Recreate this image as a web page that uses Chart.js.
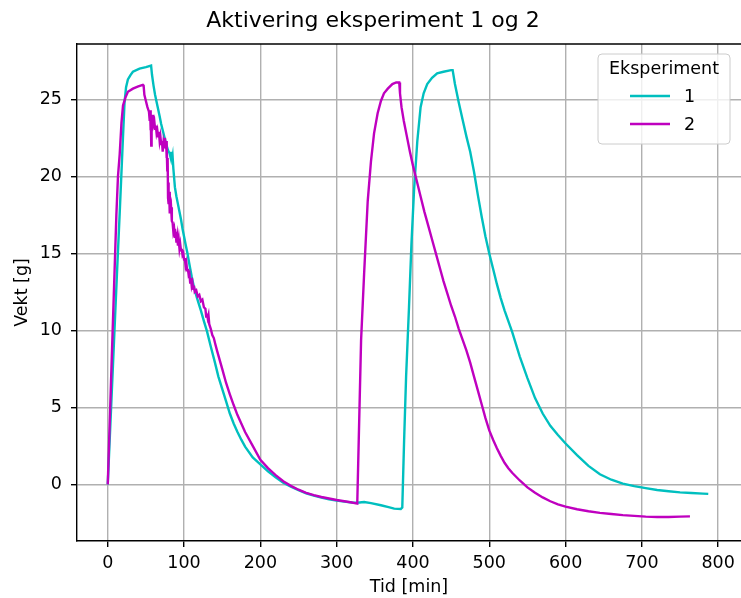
<!DOCTYPE html>
<html>
<head>
<meta charset="utf-8">
<title>Aktivering eksperiment 1 og 2</title>
<script src="https://cdn.jsdelivr.net/npm/chart.js@4/dist/chart.umd.min.js"></script>
<style>
  html, body { margin: 0; padding: 0; overflow: hidden; background: #fff; }
</style>
</head>
<body>
<canvas id="aktivering" width="741" height="598"></canvas>
<script>
////////////////// Data ///////////////////////

// Eksperiment 1: tid [min] og vekt [g]
const tid1 = [
  0, 6, 12, 16, 20, 22, 24, 26.4, 30, 33, 41.6, 50, 56.8,
  58, 60, 62, 65, 68, 70, 73, 76, 79, 81, 82.5, 83, 84, 85, 86, 88, 90, 92, 94, 96,
  98, 100, 102, 104.5, 107, 110, 113, 117, 122, 126, 130, 135, 140, 145, 150, 155,
  160, 165, 170, 175, 180, 190, 200, 210, 220, 230, 240, 250, 260, 270, 280, 290,
  300, 310, 320, 326, 330, 336, 345, 358, 368, 375.4, 384, 386,
  388.4, 391, 394.8, 398, 401.4, 405.7, 410, 414, 418.7, 425, 431.7, 440, 450, 452,
  455, 460, 465, 470, 475, 480, 485, 490, 495, 500, 505, 510, 515, 520, 525, 530,
  540, 550, 560, 570, 580, 590, 600, 615, 630, 645, 660, 675, 690, 705, 720, 735,
  750, 765, 780, 787,
];
const vekt1 = [
  0, 6.8, 13.6, 18, 22.6, 24.8, 25.8, 26.3, 26.6, 26.8, 27.0, 27.1, 27.2,
  26.6, 25.9, 25.3, 24.6, 23.9, 23.4, 22.8, 22.2, 21.7, 21.5, 21.2, 21.6, 21.0, 21.3, 20.5, 19.3, 18.7, 18.2, 17.7, 17.2,
  16.6, 16.1, 15.6, 15.0, 14.3, 13.5, 12.8, 12.1, 11.3, 10.6, 9.95, 8.95, 8.0, 7.0, 6.2, 5.4,
  4.6, 3.95, 3.4, 2.9, 2.45, 1.75, 1.3, 0.85, 0.45, 0.1, -0.15, -0.38, -0.58, -0.73, -0.86, -0.97,
  -1.06, -1.12, -1.18, -1.2, -1.18, -1.15, -1.22, -1.36, -1.48, -1.58, -1.6, -1.5,
  2.86, 7, 11.5, 15.6, 19.1, 22.3, 24.5, 25.4, 26.0, 26.4, 26.7, 26.8, 26.9, 26.9,
  26.0, 24.8, 23.7, 22.6, 21.6, 20.3, 18.8, 17.4, 16.1, 15.0, 14.0, 13.0, 12.1, 11.3, 10.6, 9.9,
  8.3, 6.9, 5.6, 4.6, 3.8, 3.2, 2.65, 1.9, 1.2, 0.65, 0.3, 0.05, -0.12, -0.25, -0.37, -0.45,
  -0.52, -0.56, -0.6, -0.62,
];

// Eksperiment 2: tid [min] og vekt [g]
const tid2 = [
  0, 5, 11.3, 13.4, 15.6, 18, 20, 23, 26.4, 33, 40, 46, 47,
  48, 50, 52, 54, 55, 55.5, 56, 56.5, 57, 57.5, 58, 59, 60, 61, 62, 63, 64, 65, 66,
  67, 68, 69, 70, 71, 72, 73, 74, 75, 76, 76.5, 77, 77.5, 78, 78.5, 79, 79.5, 80,
  80.5, 81, 81.5, 82, 83, 84, 85, 86, 87, 88, 89, 90, 91, 92, 93, 94, 95, 96, 97,
  98, 99, 100, 101, 102, 103, 104, 105, 106, 107, 108, 109, 110, 111, 112, 113,
  114, 116, 118, 120, 122, 124, 126, 128, 129, 130, 131, 132, 133, 135, 137, 139,
  141, 143.4, 150, 155, 160, 165, 170, 175, 180, 190, 200, 210, 220, 230, 240, 250,
  260, 270, 280, 290, 300, 310, 320, 327,
  332, 336, 340.7, 345, 349, 353.7, 358, 362, 367, 373, 378, 382,
  383, 385, 388, 392, 396, 400, 405, 410, 415, 420, 425, 430, 435, 440, 445, 450,
  455, 460, 465, 470, 475, 480, 485, 490, 495, 500, 505, 510, 515, 520, 525, 530,
  540, 550, 560, 570, 580, 590, 600, 615, 630, 645, 660, 675, 690, 705, 720, 735,
  750, 763,
];
const vekt2 = [
  0, 7.8, 17.5, 20.0, 21.4, 23.5, 24.6, 25.1, 25.5, 25.7, 25.85, 25.95, 25.9,
  25.3, 24.9, 24.5, 24.2, 23.6, 24.3, 23.0, 24.0, 22.0, 23.8, 23.2, 24.0, 23.4, 23.6, 23.1, 23.3, 22.8, 23.0, 22.6,
  22.9, 22.3, 22.6, 22.1, 22.3, 21.6, 22.2, 21.9, 22.5, 21.8, 22.3, 21.2, 21.9, 20.4, 21.2, 18.6, 19.6, 18.2,
  19.0, 17.6, 18.8, 17.7, 18.0, 17.1, 17.0, 16.4, 16.6, 16.0, 16.4, 15.7, 16.1, 15.5, 15.9, 15.3, 15.6, 15.2, 15.3,
  14.9, 15.0, 14.6, 14.7, 14.2, 14.4, 13.9, 14.0, 13.6, 13.7, 13.1, 13.4, 12.9, 13.1, 12.7, 12.9,
  12.5, 12.6, 12.2, 12.3, 11.9, 12.0, 11.5, 11.4, 10.9, 11.1, 10.8, 11.0, 10.4, 10.1, 9.7, 9.5,
  9.1, 8.65, 7.5, 6.6, 5.85, 5.15, 4.5, 3.95, 3.4, 2.5, 1.6, 1.05, 0.6, 0.2, -0.1, -0.35,
  -0.55, -0.7, -0.82, -0.92, -1.02, -1.1, -1.18, -1.25,
  9.35, 13.7, 18.4, 21, 22.8, 24.1, 24.9, 25.4, 25.7, 26.0, 26.1, 26.1,
  25.4, 24.5, 23.6, 22.6, 21.6, 20.7, 19.7, 18.7, 17.7, 16.8, 15.9, 15.0, 14.1, 13.2, 12.4, 11.6,
  10.9, 10.1, 9.4, 8.7, 7.9, 7.0, 6.1, 5.2, 4.3, 3.5, 2.9, 2.35, 1.85, 1.4, 1.05, 0.75,
  0.25, -0.2, -0.55, -0.85, -1.1, -1.3, -1.45, -1.62, -1.75, -1.85, -1.93, -2.0, -2.05, -2.1, -2.12, -2.12,
  -2.1, -2.08,
];

const serieNavn = ["1", "2"];
const yTicks = [0, 5, 10, 15, 20, 25];
const xTicks = [0, 100, 200, 300, 400, 500, 600, 700, 800];

const toPoints = (t, v) => t.map((x, i) => ({ x: x, y: v[i] }));

////////////////// Plugins ///////////////////////

// top spine (the right one falls outside the canvas)
const frame = {
  id: "frame",
  afterDraw(chart) {
    const { ctx, chartArea } = chart;
    ctx.save();
    ctx.strokeStyle = "#000";
    ctx.lineWidth = 1.4;
    ctx.beginPath();
    ctx.moveTo(chartArea.left, chartArea.top);
    ctx.lineTo(chartArea.right, chartArea.top);
    ctx.stroke();
    ctx.restore();
  },
};

// legend box inside the plot area, upper right
const legendInside = {
  id: "legendInside",
  afterDraw(chart) {
    const { ctx, chartArea } = chart;
    const w = 132, h = 90;
    const left = chartArea.right - 11 - w;
    const top = chartArea.top + 10;
    ctx.save();
    ctx.beginPath();
    ctx.roundRect(left, top, w, h, 4);
    ctx.fillStyle = "rgba(255,255,255,0.8)";
    ctx.fill();
    ctx.strokeStyle = "#cccccc";
    ctx.lineWidth = 1;
    ctx.stroke();

    ctx.font = "17.5px 'DejaVu Sans'";
    ctx.fillStyle = "#000";
    ctx.textBaseline = "middle";
    ctx.textAlign = "center";
    ctx.fillText("Eksperiment", left + w / 2, top + 15);

    chart.data.datasets.forEach((ds, i) => {
      const y = top + 42 + i * 28;
      ctx.strokeStyle = ds.borderColor;
      ctx.lineWidth = ds.borderWidth;
      ctx.beginPath();
      ctx.moveTo(left + 32, y);
      ctx.lineTo(left + 72, y);
      ctx.stroke();
      ctx.textAlign = "left";
      ctx.fillText(ds.label, left + 86, y + 1);
    });
    ctx.restore();
  },
};

////////////////// Chart ///////////////////////

Chart.defaults.font.family = "'DejaVu Sans', sans-serif";
Chart.defaults.color = "#000";

const ctx = document.getElementById("aktivering");
const myChart = new Chart(ctx, {
  type: "line",
  data: {
    datasets: [
      {
        label: serieNavn[0],
        data: toPoints(tid1, vekt1),
        borderColor: "#00bfbf",
        borderWidth: 2.4,
        pointRadius: 0,
        tension: 0,
        order: 2,
      },
      {
        label: serieNavn[1],
        data: toPoints(tid2, vekt2),
        borderColor: "#bf00bf",
        borderWidth: 2.4,
        pointRadius: 0,
        tension: 0,
        order: 1,
      },
    ],
  },
  options: {
    responsive: false,
    animation: false,
    // the right edge of the axes sits just past the canvas edge
    layout: { padding: { left: 0, right: -5, top: 0, bottom: 0 } },
    scales: {
      x: {
        type: "linear",
        min: -40.3,
        max: 829.9,
        afterBuildTicks: (scale) => {
          scale.ticks = xTicks.map((v) => ({ value: v }));
        },
        afterFit: (scale) => {
          scale.height = 57;
        },
        ticks: {
          font: { size: 17.5 },
          padding: 6,
          maxRotation: 0,
          callback: (v) => v,
        },
        grid: {
          color: "#b0b0b0",
          lineWidth: 1.4,
          tickColor: "#000",
          tickLength: 6,
        },
        border: { display: true, color: "#000", width: 1.4 },
        title: {
          display: true,
          text: "Tid [min]",
          font: { size: 17.5 },
          padding: { top: 0, bottom: 0 },
        },
      },
      y: {
        min: -3.68,
        max: 28.6,
        afterBuildTicks: (scale) => {
          scale.ticks = yTicks.map((v) => ({ value: v }));
        },
        afterFit: (scale) => {
          scale.width = 77;
        },
        ticks: {
          font: { size: 17.5 },
          padding: 9,
          callback: (v) => v,
        },
        grid: {
          color: "#b0b0b0",
          lineWidth: 1.4,
          tickColor: "#000",
          tickLength: 6,
        },
        border: { display: true, color: "#000", width: 1.4 },
        title: {
          display: true,
          text: "Vekt [g]",
          font: { size: 17.5 },
          padding: { top: 12, bottom: 0 },
        },
      },
    },
    plugins: {
      title: {
        display: true,
        text: "Aktivering eksperiment 1 og 2",
        font: { size: 22, weight: "normal" },
        padding: { top: 8, bottom: 9.6 },
      },
      legend: { display: false },
      tooltip: { enabled: false },
    },
  },
  plugins: [frame, legendInside],
});
</script>
</body>
</html>
